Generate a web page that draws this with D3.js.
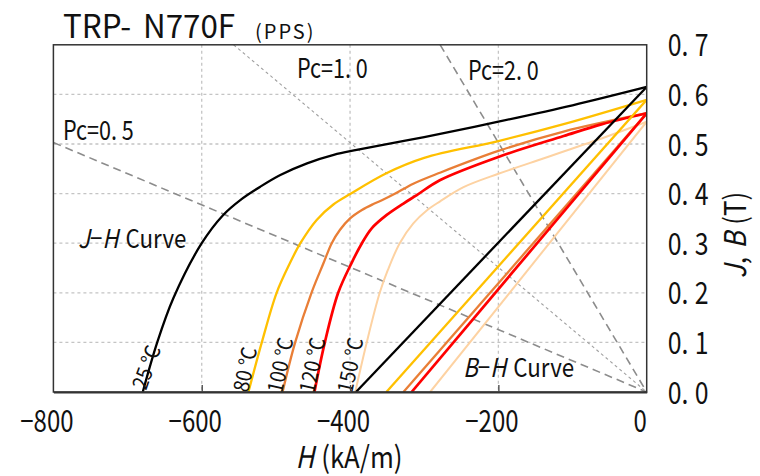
<!DOCTYPE html>
<html><head><meta charset="utf-8">
<script src="https://cdn.jsdelivr.net/npm/d3@7"></script>
<style>body{margin:0;background:#fff} svg{display:block}</style>
</head><body>
<svg id="chart" width="760" height="476"></svg>
<script>
// ---------- data ----------
const xTicks = [-800, -600, -400, -200, 0];
const yTicks = [0, 0.1, 0.2, 0.3, 0.4, 0.5, 0.6, 0.7];
const xGrid = [-600, -400, -200];
const yGrid = [0.1, 0.2, 0.3, 0.4, 0.5, 0.6];
const tempLabels = ["25 ℃", "80 ℃", "100 ℃", "120 ℃", "150 ℃"];
const tempColors = ["#000000", "#FFC000", "#E97E36", "#FF0000", "#FDD2A2"];

// J-H curves [H (kA/m), J (T)]
const jh25 = [[-679.5,0],[-660,0.1],[-638,0.19],[-600,0.30],[-571,0.357],[-548,0.387],[-521,0.414],[-494,0.4375],[-458,0.461],[-422,0.478],[-391,0.488],[-300,0.514],[-200,0.545],[-100,0.578],[0,0.615]];
const jh80 = [[-537,0],[-519,0.1],[-499,0.2],[-481,0.26],[-467,0.30],[-445,0.347],[-422.5,0.378],[-400,0.399],[-351,0.441],[-300,0.472],[-200,0.506],[-112,0.540],[0,0.589]];
const jh100 = [[-491,0],[-474,0.1],[-452,0.2],[-436,0.259],[-424.7,0.30],[-413.5,0.327],[-400,0.35],[-384,0.367],[-368.6,0.379],[-355,0.388],[-339,0.40],[-314.7,0.42],[-279,0.442],[-200,0.486],[-112,0.525],[0,0.562]];
const jh120 = [[-448,0],[-434,0.1],[-416,0.2],[-398,0.26],[-384,0.30],[-370.8,0.33],[-350.5,0.357],[-328,0.38],[-310,0.397],[-279,0.427],[-200,0.474],[-112,0.516],[-60,0.54],[0,0.562]];
const jh150 = [[-393,0],[-377.5,0.1],[-360,0.2],[-349,0.246],[-333,0.30],[-314.7,0.34],[-296.6,0.366],[-279,0.384],[-247,0.413],[-200,0.44],[-157,0.462],[-67,0.508],[0,0.545]];
// B-H lines [H, B]
const bh25 = [[-392,0],[0,0.615]];
const bh80 = [[-351,0],[0,0.589]];
const bh100 = [[-328,0],[0,0.562]];
const bh120 = [[-317,0],[0,0.562]];
const bh150 = [[-292,0],[0,0.545]];
// permeance coefficient lines
const pcNames = ["Pc=0.5", "Pc=1.0", "Pc=2.0"];
const pc05 = [[-800,0.503],[0,0]];
const pc10 = [[-557,0.7],[0,0]];
const pc20 = [[-278.5,0.7],[0,0]];

// ---------- layout ----------
const FONT = "'Noto Sans CJK JP','Noto Sans',sans-serif";
const L = 53.4, R = 646.7, T = 44.8, B = 392;
const svg = d3.select("#chart");
const x = d3.scaleLinear().domain([-800, 0]).range([L, R]);
const y = d3.scaleLinear().domain([0, 0.7]).range([B, T]);
const SX = 0.8;

function label(parent, px, py, segs, o) {
  const g = parent.append("g")
    .attr("transform", `translate(${px},${py}) rotate(${o.rot || 0}) scale(${o.sx || SX},1)`);
  const t = g.append("text")
    .attr("font-family", FONT).attr("font-size", o.size)
    .attr("text-anchor", o.anchor || "start").attr("fill", o.fill || "#111");
  if (o.ls) t.attr("letter-spacing", o.ls);
  segs.forEach(s => {
    const sp = t.append("tspan").text(s[0]);
    if (s[1]) sp.attr("font-style", "italic");
    if (s[2]) sp.attr("dx", s[2]);
  });
  return g;
}

svg.append("defs").append("clipPath").attr("id", "plot")
  .append("rect").attr("x", L).attr("y", T).attr("width", R - L).attr("height", B - T);

// grid
const grid = svg.append("g");
grid.selectAll(".gx").data(xGrid).join("line")
  .attr("x1", d => x(d)).attr("x2", d => x(d)).attr("y1", T).attr("y2", B)
  .attr("stroke", "#c4c4c4").attr("stroke-width", 1.3).attr("stroke-dasharray", "3,3");
grid.selectAll(".gy").data(yGrid).join("line")
  .attr("y1", d => y(d)).attr("y2", d => y(d)).attr("x1", L).attr("x2", R)
  .attr("stroke", "#c4c4c4").attr("stroke-width", 1.3).attr("stroke-dasharray", "3,3");

const line = d3.line().x(d => x(d[0])).y(d => y(d[1]));
const curve = d3.line().x(d => x(d[0])).y(d => y(d[1])).curve(d3.curveCatmullRom.alpha(0.5));

const plot = svg.append("g").attr("clip-path", "url(#plot)");
// Pc lines
plot.append("path").attr("d", line(pc05)).attr("fill", "none")
  .attr("stroke", "#8c8c8c").attr("stroke-width", 1.6).attr("stroke-dasharray", "8,5");
plot.append("path").attr("d", line(pc10)).attr("fill", "none")
  .attr("stroke", "#a0a0a0").attr("stroke-width", 1.1).attr("stroke-dasharray", "3,3");
plot.append("path").attr("d", line(pc20)).attr("fill", "none")
  .attr("stroke", "#8c8c8c").attr("stroke-width", 1.6).attr("stroke-dasharray", "8,5");

// curves
const jhSets = [jh25, jh80, jh100, jh120, jh150];
const bhSets = [bh25, bh80, bh100, bh120, bh150];
const widths = [2.3, 2.3, 2.3, 2.7, 2.0];
const order = [4, 2, 3, 1, 0];
order.forEach(i => {
  plot.append("path").attr("d", curve(jhSets[i])).attr("fill", "none")
    .attr("stroke", tempColors[i]).attr("stroke-width", widths[i]).attr("stroke-linejoin", "round");
  plot.append("path").attr("d", line(bhSets[i])).attr("fill", "none")
    .attr("stroke", tempColors[i]).attr("stroke-width", widths[i]);
});

// temperature labels
const tempPos = [[146, 391, -70], [248, 393, -78], [282, 394, -78], [314, 394, -78], [352, 394, -78]];
const lab = svg.append("g").attr("clip-path", "url(#plot)");
tempLabels.forEach((t, i) => {
  label(lab, tempPos[i][0], tempPos[i][1], [[t]], { size: 21, rot: tempPos[i][2], sx: 0.92 });
});

// frame
svg.append("rect").attr("x", L).attr("y", T).attr("width", R - L).attr("height", B - T)
  .attr("fill", "none").attr("stroke", "#333").attr("stroke-width", 1.5);

// bottom axis
const xAxis = svg.append("g").attr("transform", `translate(0,${B})`)
  .call(d3.axisBottom(x).tickValues(xTicks).tickSize(0).tickFormat(d => d === 0 ? "0" : "\u2212" + Math.abs(d)));
xAxis.select(".domain").attr("stroke", "#333").attr("stroke-width", 2);
xAxis.selectAll("text").remove();
xAxis.selectAll(".tick").each(function(d) {
  const g = d3.select(this);
  if (d > -800 && d < 0) g.append("line").attr("y1", 0).attr("y2", -7).attr("stroke", "#444").attr("stroke-width", 1.3);
  label(g, -7, 40, [[d === 0 ? "0" : "\u2212" + Math.abs(d)]], { size: 30, anchor: "middle" });
});

// right axis
const yAxis = svg.append("g").attr("transform", `translate(${R},0)`)
  .call(d3.axisRight(y).tickValues(yTicks).tickSize(0));
yAxis.select(".domain").remove();
yAxis.selectAll("text").remove();
yAxis.selectAll(".tick").each(function(d) {
  const s = d3.format(".1f")(d).split(".");
  label(d3.select(this), 21, 11, [[s[0] + "."], [s[1], false, 8]], { size: 31 });
});

// titles
label(svg, 63, 38, [["TRP-"], ["N770F", false, 12]], { size: 32, sx: 0.98 });
label(svg, 255, 39, [["(PPS)"]], { size: 20, sx: 1.0, ls: 2 });
label(svg, 349, 468, [["H", true], ["(kA/m)", false, 8]], { size: 30, anchor: "middle", sx: 0.86 });
label(svg, 746, 235, [["J", true], [","], ["B", true, 10], ["(T)", false, 8]], { size: 30, anchor: "middle", rot: -90, sx: 0.86 });

// annotations
label(svg, 63, 140, [["Pc=0."], ["5", false, 6]], { size: 27 });
label(svg, 297, 78, [["Pc=1."], ["0", false, 6]], { size: 27 });
label(svg, 468, 80, [["Pc=2."], ["0", false, 6]], { size: 27 });
label(svg, 78, 248, [["J", true], ["\u2212"], ["H", true], ["Curve", false, 8]], { size: 26, sx: 0.86 });
label(svg, 463, 377, [["B", true], ["\u2212"], ["H", true], ["Curve", false, 8]], { size: 26, sx: 0.86 });
</script>
</body></html>
